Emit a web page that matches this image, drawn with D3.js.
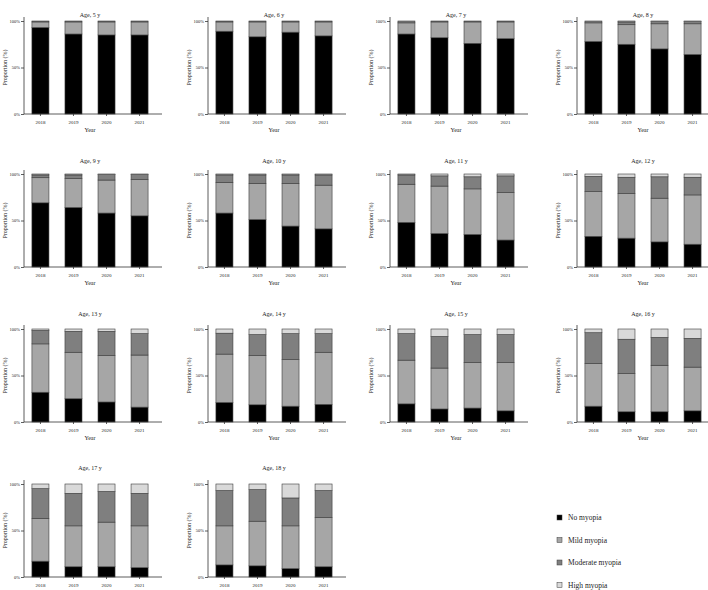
<!DOCTYPE html>
<html>
<head>
<meta charset="utf-8">
<script src="https://cdn.jsdelivr.net/npm/d3@7"></script>
<style>
  body { margin: 0; background: #fff; }
</style>
</head>
<body>
<div id="chart"></div>
<script>
// Data (percent of children)
const years = ["2018", "2019", "2020", "2021"];
const ages = [5, 6, 7, 8, 9, 10, 11, 12, 13, 14, 15, 16, 17, 18];
const categories = ["No myopia", "Mild myopia", "Moderate myopia", "High myopia"];
const yTicks = [0, 50, 100];

const noMyopia = [
  [93, 86, 85, 85], [89, 83, 88, 84], [86, 82, 76, 81], [78, 75, 70, 64],
  [69, 64, 58, 55], [58, 51, 44, 41], [48, 36, 35, 29], [33, 31, 27, 24.5],
  [32, 25, 21.5, 16], [21, 18.5, 17, 19], [19.5, 14, 15, 12], [17, 11, 11, 12],
  [17, 11, 11, 10], [13, 12, 9, 11]
];
const mildMyopia = [
  [6, 13, 14, 14], [10, 16, 11, 15], [12, 17, 23, 18], [20, 21, 27, 33],
  [27, 31, 35.5, 39], [33, 39, 46, 47], [41, 51, 49, 51], [48, 48, 47, 53],
  [52, 50, 50, 56], [52, 53, 50, 56], [47, 44, 49, 52], [46, 41, 50, 47],
  [46, 44, 48, 45], [42, 48, 46, 53]
];
const moderateMyopia = [
  [1, 1, 1, 1], [1, 1, 1, 1], [2, 1, 1, 1], [2, 3, 2.5, 2.5],
  [3, 4, 6, 5.5], [8, 9, 9, 11], [10, 11, 13, 18], [16.5, 17.5, 23, 19],
  [14.5, 22.5, 26, 23], [22.5, 22.5, 28, 20], [28.5, 34, 30, 30], [33, 37, 30, 31],
  [32, 35, 33, 35], [38, 34, 30, 29]
];
const highMyopia = [
  [0, 0, 0, 0], [0, 0, 0, 0], [0, 0, 0, 0], [0, 1, 0.5, 0.5],
  [1, 1, 0.5, 0.5], [1, 1, 1, 1], [1, 2, 3, 2], [2.5, 3.5, 3, 3.5],
  [1.5, 2.5, 2.5, 5], [4.5, 6, 5, 5], [5, 8, 6, 6], [4, 11, 9, 10],
  [5, 10, 8, 10], [7, 6, 15, 7]
];
const seriesValues = [noMyopia, mildMyopia, moderateMyopia, highMyopia];

// Layout
const width = 708;
const height = 590;
const colX = [24, 208, 390, 577];
const rowY = [21, 174, 329, 484];
const titleY = [15, 161, 314, 468];
const plotH = 93;
const bandW = 132;
const axisLen = 138;
const colors = ["#000000", "#a6a6a6", "#7f7f7f", "#d9d9d9"];
const font = "'Liberation Serif', 'Times New Roman', serif";

const svg = d3.select("#chart")
  .append("svg")
    .attr("width", width)
    .attr("height", height)
    .style("font-family", font);

const xScale = d3.scaleBand()
  .domain(years)
  .range([0, bandW])
  .paddingInner(0.485)
  .paddingOuter(0.24);
const yScale = d3.scaleLinear()
  .domain([0, 100])
  .range([plotH, 0]);
const color = d3.scaleOrdinal()
  .domain(categories)
  .range(colors);

ages.forEach((age, i) => {
  const col = i % 4;
  const row = Math.floor(i / 4);
  const g = svg.append("g")
    .attr("transform", `translate(${colX[col]}, ${rowY[row]})`);

  const rows = years.map((yr, j) => {
    const r = { year: yr };
    categories.forEach((c, k) => { r[c] = seriesValues[k][i][j]; });
    return r;
  });
  const stacked = d3.stack().keys(categories)(rows);

  g.append("g")
    .selectAll("g")
    .data(stacked)
    .join("g")
      .attr("fill", d => color(d.key))
    .selectAll("rect")
    .data(d => d.filter(s => s[1] - s[0] > 0))
    .join("rect")
      .attr("x", d => xScale(d.data.year))
      .attr("y", d => yScale(d[1]))
      .attr("width", xScale.bandwidth())
      .attr("height", d => yScale(d[0]) - yScale(d[1]))
      .attr("stroke", "#3c3c3c")
      .attr("stroke-width", 0.6);

  // y axis
  const yAxis = g.append("g")
    .call(d3.axisLeft(yScale)
      .tickValues(yTicks)
      .tickFormat(d => d + "%")
      .tickSize(3)
      .tickSizeOuter(0));
  yAxis.select(".domain").attr("d", `M0,${plotH}V-4`);
  yAxis.selectAll("line, path").attr("stroke", "#333").attr("stroke-width", 0.8);
  yAxis.selectAll("text")
    .attr("x", -4)
    .style("font-family", font)
    .style("font-size", "4.5px")
    .attr("fill", "#222");

  // x axis
  const xAxis = g.append("g")
    .attr("transform", `translate(0, ${plotH})`)
    .call(d3.axisBottom(xScale).tickSize(2).tickSizeOuter(0));
  xAxis.select(".domain").attr("d", `M0,0H${axisLen}`);
  xAxis.selectAll("line, path").attr("stroke", "#333").attr("stroke-width", 0.8);
  xAxis.selectAll("text")
    .attr("y", 6)
    .style("font-family", font)
    .style("font-size", "5px")
    .attr("fill", "#222");

  // labels
  svg.append("text")
    .attr("x", colX[col] + 66)
    .attr("y", titleY[row] + 2)
    .attr("text-anchor", "middle")
    .style("font-size", "6px")
    .attr("fill", "#222")
    .text(`Age, ${age} y`);
  // the bottom row's "Year" falls below the page edge in the original
  if (rowY[row] + plotH + 18 < height) {
    g.append("text")
      .attr("x", 66)
      .attr("y", plotH + 18)
      .attr("text-anchor", "middle")
      .style("font-size", "6px")
      .attr("fill", "#222")
      .text("Year");
  }
  g.append("text")
    .attr("transform", `translate(-17, ${plotH / 2}) rotate(-90)`)
    .attr("text-anchor", "middle")
    .style("font-size", "6px")
    .attr("fill", "#222")
    .text("Proportion (%)");
});

// Legend
const legend = svg.append("g")
  .attr("transform", "translate(557, 518)");
const items = legend.selectAll("g")
  .data(categories)
  .join("g")
    .attr("transform", (d, i) => `translate(0, ${i * 22.5})`);
items.append("rect")
  .attr("x", 0)
  .attr("y", -3)
  .attr("width", 5)
  .attr("height", 5)
  .attr("fill", d => color(d))
  .attr("stroke", "#3c3c3c")
  .attr("stroke-width", 0.5);
items.append("text")
  .attr("x", 11)
  .attr("y", 2)
  .style("font-size", "7.5px")
  .attr("fill", "#222")
  .text(d => d);
</script>
</body>
</html>
